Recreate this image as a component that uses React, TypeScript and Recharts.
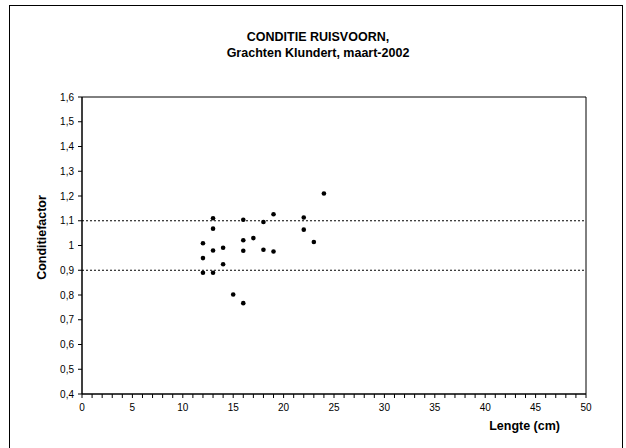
import {
  ReferenceArea,
  ReferenceLine,
  Scatter,
  ScatterChart,
  XAxis,
  YAxis,
} from "recharts";

const lengths = [24, 13, 16, 19, 18, 22, 22, 13, 23, 12, 17, 16, 14, 13, 16, 18, 19, 12, 14, 12, 13, 15, 16];
const factors = [1.21, 1.11, 1.104, 1.126, 1.095, 1.113, 1.064, 1.068, 1.014, 1.009, 1.03, 1.021, 0.991, 0.98, 0.979, 0.983, 0.976, 0.949, 0.924, 0.89, 0.89, 0.802, 0.767];

const xTicks = Array.from({ length: 51 }, (_, i) => i);
const yTicks = [0.4, 0.5, 0.6, 0.7, 0.8, 0.9, 1, 1.1, 1.2, 1.3, 1.4, 1.5, 1.6];
const limits = [0.9, 1.1];

const points = lengths.map((x, i) => ({ x, y: factors[i] }));

const font = "'Liberation Sans', Arial, sans-serif";
const tickStyle = { fill: "#000", fontSize: 10, fontFamily: font };

const Dot = (p: any) => <circle cx={p.cx} cy={p.cy} r={2.3} fill="#000" />;

const YLabel = (p: any) => {
  const vb = p.viewBox || {};
  const cx = 42;
  const cy = vb.y + vb.height / 2 - 8;
  return (
    <text
      x={cx}
      y={cy}
      transform={`rotate(-90, ${cx}, ${cy})`}
      textAnchor="middle"
      dominantBaseline="central"
      fill="#000"
      fontSize={12.5}
      fontWeight="bold"
      fontFamily={font}
    >
      Conditiefactor
    </text>
  );
};

export default function App() {
  return (
    <div style={{ position: "absolute", left: 0, top: 0, width: 626, height: 448, background: "#fff", overflow: "hidden" }}>
      <div style={{ position: "absolute", left: 9, top: 5, width: 614, height: 460, border: "1px solid #000", boxSizing: "border-box" }} />
      <div
        style={{
          position: "absolute",
          left: 0,
          width: 636,
          top: 29,
          textAlign: "center",
          fontFamily: font,
          fontWeight: "bold",
          fontSize: 12.5,
          lineHeight: "16px",
        }}
      >
        CONDITIE RUISVOORN,
        <br />
        Grachten Klundert, maart-2002
      </div>
      <ScatterChart width={626} height={448} margin={{ top: 97, right: 40, bottom: 24, left: 42 }} style={{ position: "absolute", left: 0, top: 0 }}>
        <XAxis
          type="number"
          dataKey="x"
          domain={[0, 50]}
          ticks={xTicks}
          interval={0}
          tickSize={4}
          tickMargin={6}
          height={30}
          allowDecimals={false}
          stroke="#000"
          tick={tickStyle}
          tickFormatter={(v) => (v % 5 === 0 ? String(v) : "")}
          label={{ value: "Lengte (cm)", position: "insideBottomRight", offset: 0, dx: -26, dy: 6, fill: "#000", fontSize: 12.5, fontWeight: "bold", fontFamily: font }}
        />
        <YAxis
          type="number"
          dataKey="y"
          domain={[0.4, 1.6]}
          ticks={yTicks}
          interval={0}
          tickSize={4}
          tickMargin={4}
          width={40}
          stroke="#000"
          tick={tickStyle}
          tickFormatter={(v) => String(Math.round(v * 10) / 10).replace(".", ",")}
          label={<YLabel />}
        />
        <ReferenceArea x1={0} x2={50} y1={0.4} y2={1.6} fill="none" stroke="#000" strokeWidth={1} />
        {limits.map((v) => (
          <ReferenceLine key={v} y={v} stroke="#000" strokeDasharray="2 2" />
        ))}
        <Scatter data={points} shape={Dot} isAnimationActive={false} />
      </ScatterChart>
    </div>
  );
}
